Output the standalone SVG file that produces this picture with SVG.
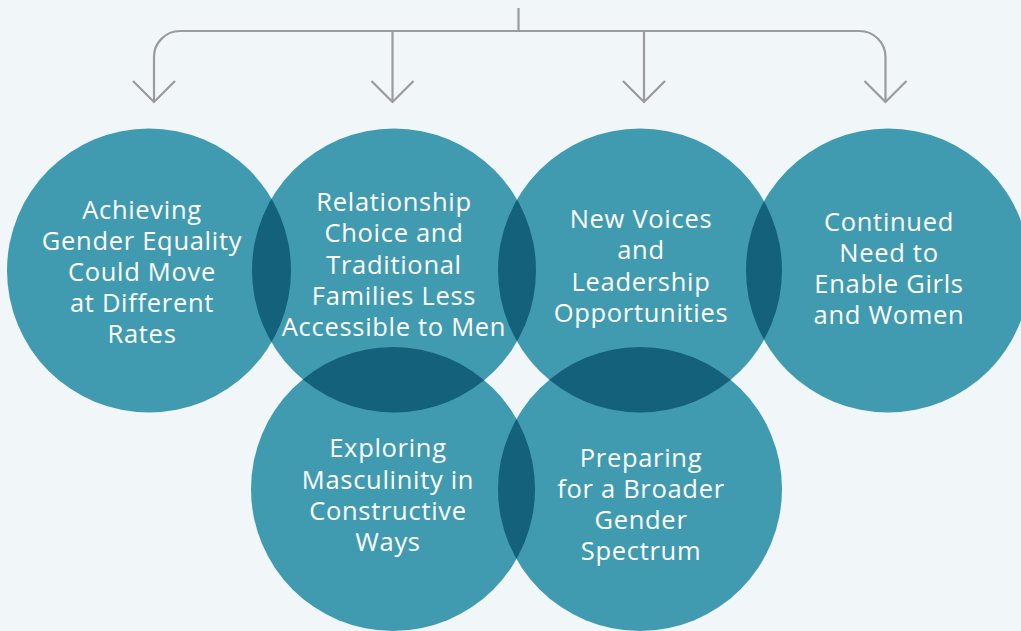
<svg xmlns="http://www.w3.org/2000/svg" width="1021" height="631" viewBox="0 0 1021 631">
<defs>
<style>
.c{fill:#419bb0}
.d{fill:#13617a}
.t{font-family:"Open Sans","Noto Sans","Liberation Sans",sans-serif;font-size:25.5px;letter-spacing:0.7px;fill:#ffffff;text-anchor:middle}
.ln{fill:none;stroke:#999b9d;stroke-width:2.2}
</style>
<clipPath id="k1"><circle cx="149" cy="270.5" r="142"/></clipPath>
<clipPath id="k2"><circle cx="394" cy="270.5" r="142"/></clipPath>
<clipPath id="k3"><circle cx="640" cy="270.5" r="142"/></clipPath>
<clipPath id="kb1"><circle cx="393" cy="489" r="142"/></clipPath>
</defs>
<rect width="1021" height="631" fill="#f1f6f9"/>
<g id="connectors">
<path class="ln" d="M518.5 8 V31"/>
<path class="ln" d="M154 102 V57 A26 26 0 0 1 180 31 H859 A26 26 0 0 1 885.5 57 V102"/>
<path class="ln" d="M392.5 31 V102"/>
<path class="ln" d="M644 31 V102"/>
<path class="ln" d="M133 81 L154 102 L175 81"/>
<path class="ln" d="M371.5 81 L392.5 102 L413.5 81"/>
<path class="ln" d="M623 81 L644 102 L665 81"/>
<path class="ln" d="M864.5 81 L885.5 102 L906.5 81"/>
</g>
<g id="circles">
<circle class="c" cx="149" cy="270.5" r="142"/>
<circle class="c" cx="394" cy="270.5" r="142"/>
<circle class="c" cx="640" cy="270.5" r="142"/>
<circle class="c" cx="888" cy="270.5" r="142"/>
<circle class="c" cx="393" cy="489" r="142"/>
<circle class="c" cx="640" cy="489" r="142"/>
</g>
<g id="overlaps">
<circle class="d" cx="394" cy="270.5" r="142" clip-path="url(#k1)"/>
<circle class="d" cx="640" cy="270.5" r="142" clip-path="url(#k2)"/>
<circle class="d" cx="888" cy="270.5" r="142" clip-path="url(#k3)"/>
<circle class="d" cx="393" cy="489" r="142" clip-path="url(#k2)"/>
<circle class="d" cx="640" cy="489" r="142" clip-path="url(#k3)"/>
<circle class="d" cx="640" cy="489" r="142" clip-path="url(#kb1)"/>
</g>
<g id="node1">
<text class="t" x="142" y="219">Achieving</text>
<text class="t" x="142" y="250">Gender Equality</text>
<text class="t" x="142" y="281">Could Move</text>
<text class="t" x="142" y="312">at Different</text>
<text class="t" x="142" y="343">Rates</text>
</g>
<g id="node2">
<text class="t" x="394" y="211">Relationship</text>
<text class="t" x="394" y="242">Choice and</text>
<text class="t" x="394" y="273.5">Traditional</text>
<text class="t" x="394" y="305">Families Less</text>
<text class="t" x="394" y="336">Accessible to Men</text>
</g>
<g id="node3">
<text class="t" x="641" y="228">New Voices</text>
<text class="t" x="641" y="259">and</text>
<text class="t" x="641" y="291">Leadership</text>
<text class="t" x="641" y="322">Opportunities</text>
</g>
<g id="node4">
<text class="t" x="889" y="231">Continued</text>
<text class="t" x="889" y="262">Need to</text>
<text class="t" x="889" y="293">Enable Girls</text>
<text class="t" x="889" y="324">and Women</text>
</g>
<g id="node5">
<text class="t" x="388" y="457">Exploring</text>
<text class="t" x="388" y="489">Masculinity in</text>
<text class="t" x="388" y="520">Constructive</text>
<text class="t" x="388" y="551">Ways</text>
</g>
<g id="node6">
<text class="t" x="641" y="467">Preparing</text>
<text class="t" x="641" y="498">for a Broader</text>
<text class="t" x="641" y="529">Gender</text>
<text class="t" x="641" y="560">Spectrum</text>
</g>
</svg>
